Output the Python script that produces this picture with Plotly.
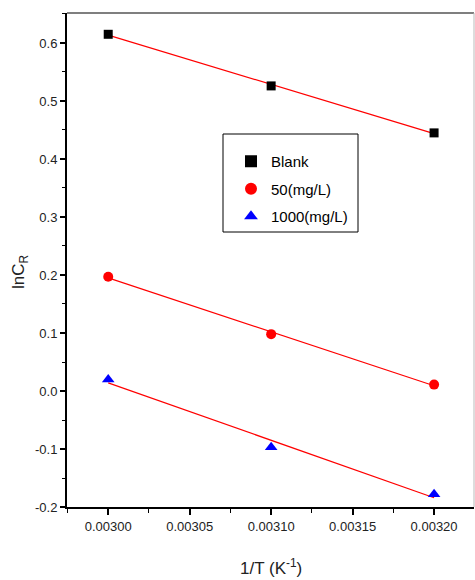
import numpy as np
import plotly.graph_objects as go

# Data
inv_T = [0.00300, 0.00310, 0.00320]
blank = [0.615, 0.526, 0.445]
c50 = [0.197, 0.098, 0.011]
c1000 = [0.020, -0.097, -0.178]
series_names = ["Blank", "50(mg/L)", "1000(mg/L)"]
x_ticks = [0.00300, 0.00305, 0.00310, 0.00315, 0.00320]
x_tick_labels = ["0.00300", "0.00305", "0.00310", "0.00315", "0.00320"]
y_ticks = [-0.2, -0.1, 0.0, 0.1, 0.2, 0.3, 0.4, 0.5, 0.6]
y_tick_labels = ["-0.2", "-0.1", "0.0", "0.1", "0.2", "0.3", "0.4", "0.5", "0.6"]

W, H = 475, 580
L, R, T, B = 67, 1, 13, 73
pw, ph = W - L - R, H - T - B

def px_x(p):
    return (p - L) / pw

def px_y(p):
    return (H - B - p) / ph

fig = go.Figure()

styles = [
    dict(symbol="square", color="black", size=9),
    dict(symbol="circle", color="red", size=10),
    dict(symbol="triangle-up", color="blue", size=11),
]
xs = np.array(inv_T)
for i, (name, ys, st) in enumerate(zip(series_names, [blank, c50, c1000], styles)):
    k, b = np.polyfit(xs, np.array(ys), 1)
    fig.add_trace(go.Scatter(
        x=inv_T, y=list(k * xs + b), mode="lines",
        line=dict(color="red", width=1.2), showlegend=False, hoverinfo="skip"))
    fig.add_trace(go.Scatter(
        x=inv_T, y=ys, mode="markers", name=name, legendgroup=f"g{i}",
        marker=dict(symbol=st["symbol"], color=st["color"], size=st["size"],
                    line=dict(width=0))))

font_family = "Liberation Sans, Arial, sans-serif"

fig.update_layout(
    width=W, height=H,
    margin=dict(l=L, r=R, t=T, b=B),
    paper_bgcolor="white", plot_bgcolor="white",
    font=dict(family=font_family, color="#222"),
    showlegend=True,
    legend=dict(
        x=px_x(231), y=px_y(145), xanchor="left", yanchor="top",
        bgcolor="rgba(0,0,0,0)", borderwidth=0,
        font=dict(size=15, family=font_family, color="black"),
        tracegroupgap=5, itemsizing="constant",
    ),
    xaxis=dict(
        range=[0.0029747, 0.0032245],
        tickvals=x_ticks, ticktext=x_tick_labels,
        ticks="outside", ticklen=6, tickwidth=1.5, tickcolor="black",
        showline=True, linecolor="black", linewidth=2,
        showgrid=False, zeroline=False,
        tickfont=dict(size=13, color="#222"),
        minor=dict(dtick=0.000025, tick0=0.003, ticks="outside", ticklen=4,
                   tickwidth=1.2, tickcolor="black", showgrid=False),
    ),
    yaxis=dict(
        range=[-0.2, 0.6517],
        tickvals=y_ticks, ticktext=y_tick_labels,
        ticks="outside", ticklen=5, tickwidth=1.5, tickcolor="black",
        showline=True, linecolor="black", linewidth=2,
        showgrid=False, zeroline=False,
        tickfont=dict(size=13, color="#222"),
        minor=dict(dtick=0.05, tick0=0.0, ticks="outside", ticklen=3,
                   tickwidth=1.2, tickcolor="black", showgrid=False),
    ),
    shapes=[
        dict(type="line", xref="paper", yref="paper", x0=0, x1=1, y0=1, y1=1,
             line=dict(color="#555", width=1.5)),
        dict(type="line", xref="paper", yref="paper", x0=1, x1=1, y0=0, y1=1,
             line=dict(color="#bbb", width=1)),
        dict(type="rect", xref="paper", yref="paper",
             x0=px_x(223), x1=px_x(358), y0=px_y(232), y1=px_y(134),
             line=dict(color="black", width=1)),
    ],
    annotations=[
        dict(text="lnC<sub>R</sub>", xref="paper", yref="paper",
             x=px_x(20), y=px_y(272), xanchor="center", yanchor="middle",
             textangle=-90, showarrow=False,
             font=dict(size=17, color="#222", family=font_family)),
        dict(text="1/T (K<sup>-1</sup>)", xref="paper", yref="paper",
             x=px_x(271), y=px_y(567), xanchor="center", yanchor="middle",
             showarrow=False,
             font=dict(size=17, color="#222", family=font_family)),
    ],
)

fig.write_html("out.html")
